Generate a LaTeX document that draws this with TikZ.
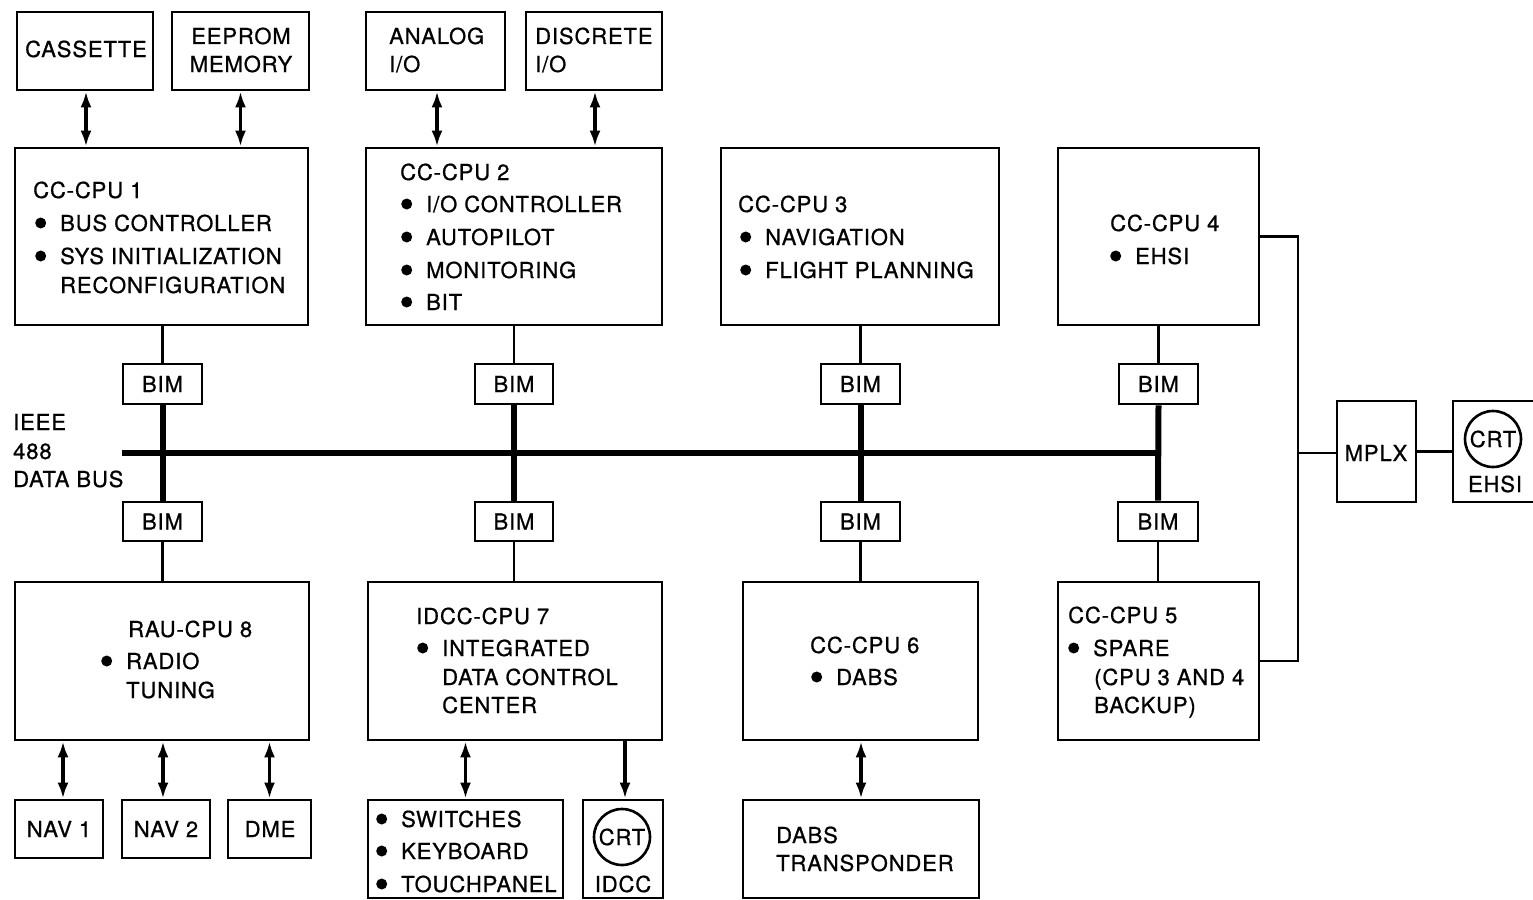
\documentclass[tikz,border=0pt]{standalone}
\usepackage{fontspec}
\setmainfont{TeX Gyre Heros}[LetterSpace=4,FakeBold=0.8]
\usetikzlibrary{arrows.meta}
\newcommand\bul{\makebox[25pt][l]{\tikz[baseline={(0pt,-8pt)}]\fill (0pt,0pt) circle (5.5pt);}}
\tikzset{
  box/.style={draw, line width=2.8pt, inner sep=0pt, rectangle, font=\fontsize{22}{26}\selectfont},
  txt/.style={inner sep=0pt, font=\fontsize{22}{26}\selectfont, anchor=base west},
  ctxt/.style={inner sep=0pt, font=\fontsize{22}{26}\selectfont, anchor=base},
  dbl/.style={{Latex[length=16pt,width=11pt]}-{Latex[length=16pt,width=11pt]}, line width=3.2pt},
  sgl/.style={-{Latex[length=16pt,width=11pt]}, line width=3.2pt},
  thinl/.style={line width=2.8pt},
  busl/.style={line width=6pt},
  crt/.style={draw, circle, line width=2.6pt, inner sep=0pt, minimum size=56pt, font=\fontsize{22}{26}\selectfont},
}
\newcommand\bx[5]{\node[box, minimum width={#4pt-#2pt}, minimum height={#5pt-#3pt}] (#1) at ({(#2+#4)/2},{(#3+#5)/2}) {};}
\newcommand\bimbox[5]{\node[box, minimum width={#4pt-#2pt}, minimum height={#5pt-#3pt}] (#1) at ({(#2+#4)/2},{(#3+#5)/2}) {BIM};}
\begin{document}
\begin{tikzpicture}[x=1pt,y=-1pt]
\useasboundingbox (0,0) rectangle (1533,899);
% top peripherals
\bx{cas}{17}{12}{153}{90}
\bx{eep}{172}{12}{309}{90}
\bx{ana}{366}{12}{505}{90}
\bx{dis}{526}{12}{662}{90}
% CPUs top row
\bx{cpu1}{15}{148}{308}{325}
\bx{cpu2}{366}{148}{662}{325}
\bx{cpu3}{721}{148}{999}{325}
\bx{cpu4}{1058}{148}{1259}{325}
% BIMs
\bimbox{b1t}{123}{364}{202}{404}
\bimbox{b2t}{475}{364}{553}{404}
\bimbox{b3t}{821}{364}{900}{404}
\bimbox{b4t}{1119}{364}{1198}{404}
\bimbox{b1b}{123}{502}{202}{541}
\bimbox{b2b}{475}{502}{553}{541}
\bimbox{b3b}{821}{502}{900}{541}
\bimbox{b4b}{1118}{502}{1198}{541}
% bottom CPUs
\bx{cpu8}{15}{582}{309}{740}
\bx{cpu7}{368}{582}{662}{740}
\bx{cpu6}{743}{582}{978}{740}
\bx{cpu5}{1058}{582}{1259}{740}
% bottom peripherals
\bx{nav1}{15}{800}{103}{858}
\bx{nav2}{122}{800}{210}{858}
\bx{dme}{228}{800}{311}{858}
\bx{sw}{368}{800}{563}{898}
\bx{idcc}{583}{800}{663}{898}
\bx{dabs}{743}{800}{979}{898}
% right side
\bx{mplx}{1337}{401}{1416}{502}
\bx{ehsi}{1453}{401}{1545}{502}
\node[crt] (crt2) at (1493,439) {CRT};
\node[crt] (crt1) at (622,837) {CRT};

% texts
\node[ctxt] (t-cas) at (86,57) {CASSETTE};
\node[ctxt] (t-eep1) at (241,44) {EEPROM};
\node[ctxt] (t-eep2) at (241,72) {MEMORY};
\node[txt] (t-ana1) at (389,44) {ANALOG};
\node[txt] (t-ana2) at (389,72) {I/O};
\node[txt] (t-dis1) at (535,44) {DISCRETE};
\node[txt] (t-dis2) at (535,72) {I/O};

\node[txt] (t1a) at (33,198) {CC-CPU 1};
\node[txt] (t1b) at (35,231) {\bul BUS CONTROLLER};
\node[txt] (t1c) at (35,264) {\bul SYS INITIALIZATION};
\node[txt] (t1d) at (60,293) {RECONFIGURATION};

\node[txt] (t2a) at (400,180) {CC-CPU 2};
\node[txt] (t2b) at (401,212) {\bul I/O CONTROLLER};
\node[txt] (t2c) at (401,245) {\bul AUTOPILOT};
\node[txt] (t2d) at (401,278) {\bul MONITORING};
\node[txt] (t2e) at (401,310) {\bul BIT};

\node[txt] (t3a) at (738,212) {CC-CPU 3};
\node[txt] (t3b) at (740,245) {\bul NAVIGATION};
\node[txt] (t3c) at (740,278) {\bul FLIGHT PLANNING};

\node[txt] (t4a) at (1110,231) {CC-CPU 4};
\node[txt] (t4b) at (1110,264) {\bul EHSI};

\node[txt] (tb1) at (13,430) {IEEE};
\node[txt] (tb2) at (13,459) {488};
\node[txt] (tb3) at (13,487) {DATA BUS};

\node[txt] (t8a) at (128,637) {RAU-CPU 8};
\node[txt] (t8b) at (101,669) {\bul RADIO};
\node[txt] (t8c) at (126,698) {TUNING};

\node[txt] (t7a) at (416,624) {IDCC-CPU 7};
\node[txt] (t7b) at (417,656) {\bul INTEGRATED};
\node[txt] (t7c) at (442,685) {DATA CONTROL};
\node[txt] (t7d) at (442,713) {CENTER};

\node[txt] (t6a) at (810,653) {CC-CPU 6};
\node[txt] (t6b) at (811,685) {\bul DABS};

\node[txt] (t5a) at (1068,623) {CC-CPU 5};
\node[txt] (t5b) at (1068,656) {\bul SPARE};
\node[txt] (t5c) at (1094,685) {(CPU 3 AND 4};
\node[txt] (t5d) at (1094,713) {BACKUP)};

\node[ctxt] (tn1) at (59,837) {NAV 1};
\node[ctxt] (tn2) at (166,837) {NAV 2};
\node[ctxt] (tdme) at (270,837) {DME};

\node[txt] (ts1) at (376,827) {\bul SWITCHES};
\node[txt] (ts2) at (376,859) {\bul KEYBOARD};
\node[txt] (ts3) at (376,892) {\bul TOUCHPANEL};
\node[ctxt] (tidcc) at (623,892) {IDCC};

\node[txt] (td1) at (776,843) {DABS};
\node[txt] (td2) at (776,871) {TRANSPONDER};

\node[ctxt] (tmplx) at (1376,461) {MPLX};
\node[ctxt] (tehsi) at (1495,492) {EHSI};

% arrows top
\draw[dbl] ([xshift=1pt]cas.south) -- ([xshift=1pt]cas.south |- cpu1.north);
\draw[dbl] (eep.south) -- (eep.south |- cpu1.north);
\draw[dbl] ([xshift=1.5pt]ana.south) -- ([xshift=1.5pt]ana.south |- cpu2.north);
\draw[dbl] ([xshift=1pt]dis.south) -- ([xshift=1pt]dis.south |- cpu2.north);
% CPU to BIM
\foreach \c/\t/\b/\d in {cpu1/b1t/b1b/cpu8, cpu2/b2t/b2b/cpu7, cpu3/b3t/b3b/cpu6, cpu4/b4t/b4b/cpu5}{
  \draw[thinl] (\t.north) -- (\t.north |- \c.south);
  \draw[busl] (\t.south) -- (\b.north);
  \draw[thinl] (\b.south) -- (\b.south |- \d.north);
}
% bus
\coordinate (busL) at (122,453);
\draw[busl] (busL) -- (busL -| b4t.south);
% right
\coordinate (jr) at (1298,453);
\draw[thinl] (cpu4.east) -| (jr) |- (cpu5.east);
\draw[thinl] (jr) -- (jr -| mplx.west);
\draw[thinl] (mplx.east) -- (mplx.east -| ehsi.west);
% bottom arrows
\draw[dbl] ([xshift=4pt]nav1.north) -- ([xshift=4pt]nav1.north |- cpu8.south);
\draw[dbl] ([xshift=-3pt]nav2.north) -- ([xshift=-3pt]nav2.north |- cpu8.south);
\draw[dbl] (dme.north) -- (dme.north |- cpu8.south);
\draw[dbl] (sw.north) -- (sw.north |- cpu7.south);
\draw[sgl] ([xshift=2pt]idcc.north |- cpu7.south) -- ([xshift=2pt]idcc.north);
\draw[dbl] (dabs.north) -- (dabs.north |- cpu6.south);
\end{tikzpicture}
\end{document}
